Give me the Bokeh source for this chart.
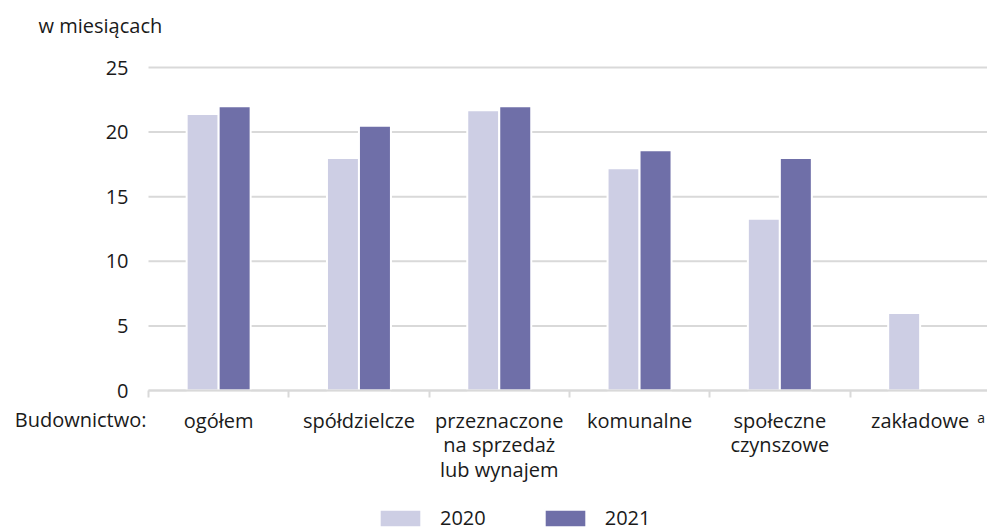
from bokeh.plotting import figure
from bokeh.models import (Range1d, FixedTicker, Legend, LegendItem, ColumnDataSource,
                          LinearAxis, Label)
from bokeh.embed import file_html
from bokeh.resources import INLINE

categories = ["ogółem", "spółdzielcze", "przeznaczone\nna sprzedaż\nlub wynajem",
              "komunalne", "społeczne\nczynszowe", "zakładowe"]
values_2020 = [21.4, 18.0, 21.7, 17.2, 13.3, 6.0]
values_2021 = [22.0, 20.5, 22.0, 18.6, 18.0, None]
y_ticks = [0, 5, 10, 15, 20, 25]
row_title = "Budownictwo:"
footnote = "a"
unit = "w miesiącach"

FONT = "Open Sans"
FS = "20px"
TXT = "#1a1a1a"
C20 = "#cdcee4"
C21 = "#6f6fa8"
GRID = "#d9d9d9"

W, H = 987, 531
X0, Y0 = 148, 390          # pixel position of (0, 0)
PXX, PXY = 140.3, 323 / 25  # pixels per category / per month

n = len(categories)
xr = Range1d(-X0 / PXX, (W - X0) / PXX)
yr = Range1d(-(H - Y0) / PXY, Y0 / PXY)
p = figure(width=W, height=H, frame_width=W, frame_height=H, min_border=0,
           output_backend="svg", toolbar_location=None,
           x_range=xr, y_range=yr, x_axis_location=None, y_axis_location=None)
p.outline_line_color = None
p.background_fill_color = "white"
p.border_fill_color = "white"
p.title.visible = False
p.xgrid.visible = False
p.ygrid.visible = False

# horizontal grid lines, only over the plotting area (x from 0 to the right edge)
p.segment(x0=[0] * len(y_ticks), x1=[n] * len(y_ticks), y0=y_ticks, y1=y_ticks,
          line_color=GRID, line_width=2)

off = 0.114
w = 0.228
x20 = [i + 0.5 - off for i in range(n)]
x21 = [i + 0.5 + off for i in range(n)]
s20 = ColumnDataSource(dict(x=x20, top=values_2020))
x21f = [x for x, v in zip(x21, values_2021) if v is not None]
v21f = [v for v in values_2021 if v is not None]
s21 = ColumnDataSource(dict(x=x21f, top=v21f))
r20 = p.vbar(x="x", top="top", width=w, source=s20, fill_color=C20, line_color="white", line_width=2)
r21 = p.vbar(x="x", top="top", width=w, source=s21, fill_color=C21, line_color="white", line_width=2)

# y axis at x = 0
ya = LinearAxis(fixed_location=0, ticker=FixedTicker(ticks=y_ticks))
ya.axis_line_color = None
ya.major_tick_line_color = None
ya.minor_tick_line_color = None
ya.major_tick_out = 0
ya.major_tick_in = 0
ya.major_label_text_font = FONT
ya.major_label_text_font_size = FS
ya.major_label_text_color = TXT
ya.major_label_standoff = 20
p.add_layout(ya, "left")

# x axis at y = 0
centers = [i + 0.5 for i in range(n)]
xa = LinearAxis(fixed_location=0, bounds=(0, n),
                ticker=FixedTicker(ticks=centers, minor_ticks=list(range(n + 1))),
                major_label_overrides={c: lab for c, lab in zip(centers, categories)})
xa.axis_line_color = GRID
xa.axis_line_width = 2
xa.major_tick_line_color = None
xa.major_tick_out = 0
xa.major_tick_in = 0
xa.minor_tick_line_color = GRID
xa.minor_tick_line_width = 2
xa.minor_tick_out = 7
xa.minor_tick_in = 0
xa.major_label_text_font = FONT
xa.major_label_text_font_size = FS
xa.major_label_text_color = TXT
xa.major_label_text_line_height = 0.92
xa.major_label_standoff = 9
p.add_layout(xa, "below")

p.add_layout(Label(x=0, y=0, x_offset=-2, y_offset=-29, text=row_title,
                   text_align="right", text_baseline="middle",
                   text_font=FONT, text_font_size=FS, text_color=TXT))
p.add_layout(Label(x=n - 0.5, y=0, x_offset=57, y_offset=-27, text=footnote,
                   text_align="left", text_baseline="middle",
                   text_font=FONT, text_font_size="14px", text_color=TXT))
p.add_layout(Label(x=0, y=y_ticks[-1], x_offset=-110, y_offset=42, text=unit,
                   text_align="left", text_baseline="middle",
                   text_font=FONT, text_font_size=FS, text_color=TXT))

legend = Legend(items=[LegendItem(label="2020", renderers=[r20]),
                       LegendItem(label="2021", renderers=[r21])],
                orientation="horizontal", location=(374, 0),
                glyph_width=52, glyph_height=22, label_standoff=14, spacing=53,
                padding=0, margin=0, border_line_color=None, background_fill_alpha=0,
                label_text_font=FONT, label_text_font_size=FS, label_text_color=TXT)
p.add_layout(legend, "center")

open("out.html", "w").write(file_html(p, INLINE))
